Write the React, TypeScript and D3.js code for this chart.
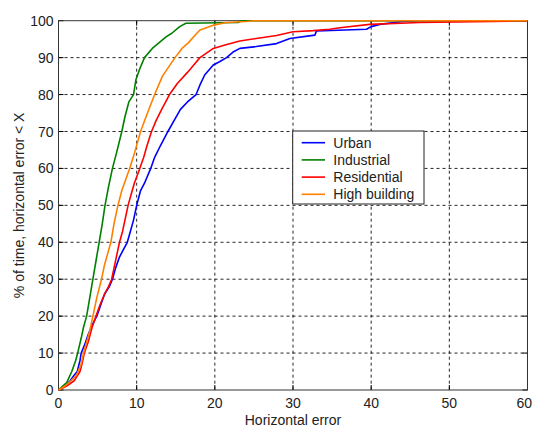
import React from "react";
import * as d3 from "d3";

const xTicks = [0, 10, 20, 30, 40, 50, 60];
const yTicks = [0, 10, 20, 30, 40, 50, 60, 70, 80, 90, 100];
const seriesNames = ["Urban", "Industrial", "Residential", "High building"];
const seriesColors = ["#0000ff", "#008000", "#ff0000", "#ff8000"];

const urbanX = [0, 0.8, 1.5, 2.0, 2.4, 2.75, 2.9, 3.3, 3.8, 4.4, 4.9, 5.4, 5.9, 6.5, 6.9, 7.3, 7.8, 8.3, 8.8, 9.2, 9.6, 10.0, 10.5, 11.0, 11.8, 12.3, 13.0, 14.0, 14.8, 15.6, 16.5, 17.6, 18.1, 18.7, 19.8, 20.6, 21.5, 22.4, 23.2, 25.3, 27.9, 29.6, 32.8, 33.0, 39.4, 40.0, 41.1, 44.0, 46.2, 60];
const urbanY = [0, 1, 2.5, 4, 5, 8, 10, 12, 15, 18, 20, 23, 26, 28, 30, 33, 36, 38, 40, 43, 46, 50, 54, 56, 60, 63, 66, 70, 73, 76, 78, 80, 82.6, 85.3, 88, 88.9, 90, 91.6, 92.5, 93, 93.8, 95.2, 96.1, 97.2, 97.7, 98.4, 99, 99.8, 100, 100];

const industrialX = [0, 0.5, 1.05, 1.7, 2.2, 2.45, 2.9, 3.2, 3.6, 4.0, 4.4, 4.8, 5.2, 5.6, 5.95, 6.4, 6.9, 7.4, 8.1, 8.5, 9.0, 9.6, 9.9, 10.4, 11.0, 12.0, 12.8, 13.8, 14.5, 15.5, 16.3, 23.0, 23.4, 60];
const industrialY = [0, 1, 2, 5, 8, 10, 14, 17, 20, 25, 30, 35, 40, 45, 50, 55, 60, 64, 70, 74, 78, 80, 84, 87, 90, 92.5, 93.9, 95.7, 96.6, 98.4, 99.3, 99.5, 100, 100];

const residentialX = [0, 1.0, 2.0, 2.75, 3.0, 3.3, 3.8, 4.3, 4.8, 5.3, 5.9, 6.4, 6.8, 7.1, 7.5, 7.8, 8.2, 8.5, 8.9, 9.3, 9.7, 10.4, 10.9, 11.3, 11.9, 12.5, 13.2, 14.2, 15.2, 16.5, 17.3, 18.1, 19.8, 21.3, 23.2, 25.3, 27.9, 30.0, 32.6, 34.7, 36.0, 39.8, 46.2, 58.0, 58.2, 60];
const residentialY = [0, 1, 2.5, 5, 7, 10, 13, 17, 20, 23, 26, 28, 30, 33, 37, 40, 43, 46, 50, 53, 56, 60, 63, 66, 70, 73, 76, 80, 83, 86, 88, 90, 92.5, 93.4, 94.5, 95.2, 96, 97, 97.3, 97.7, 98.1, 99, 99.5, 99.9, 100, 100];

const highX = [0, 0.8, 1.6, 2.3, 2.9, 3.2, 3.6, 4.0, 4.4, 4.9, 5.5, 5.9, 6.3, 6.7, 7.1, 7.6, 8.1, 8.6, 9.1, 9.7, 10.5, 11.2, 12.3, 13.3, 14.9, 15.8, 16.6, 17.7, 18.1, 19.8, 21.5, 24.0, 25.1, 60];
const highY = [0, 1, 2.5, 4, 7, 10, 13, 16, 20, 25, 30, 34, 37, 40, 45, 50, 54, 57, 60, 64, 70, 74, 80, 85, 90, 92.5, 94, 96.6, 97.5, 98.8, 99.5, 99.8, 100, 100];

const seriesData = [
  { xs: urbanX, ys: urbanY },
  { xs: industrialX, ys: industrialY },
  { xs: residentialX, ys: residentialY },
  { xs: highX, ys: highY },
];

const W = 533;
const H = 428;
const L = 58.5;
const R = 527.5;
const T = 20.7;
const B = 390;
const FONT = "'Liberation Sans', Arial, sans-serif";
const FS = 14;

export default function App() {
  const x = d3.scaleLinear().domain([0, 60]).range([L, R]);
  const y = d3.scaleLinear().domain([0, 100]).range([B, T]);
  const line = d3
    .line<[number, number]>()
    .x((d) => x(d[0]))
    .y((d) => y(d[1]));

  return (
    <svg width={W} height={H} style={{ position: "absolute", left: 0, top: 0, background: "#fff" }}>
      <rect x={0} y={0} width={W} height={H} fill="#fff" />
      {xTicks.slice(1, -1).map((t) => (
        <line key={"gx" + t} x1={x(t)} x2={x(t)} y1={T} y2={B} stroke="#000" strokeWidth={1} strokeDasharray="3,3" opacity={0.85} />
      ))}
      {yTicks.slice(1, -1).map((t) => (
        <line key={"gy" + t} x1={L} x2={R} y1={y(t)} y2={y(t)} stroke="#000" strokeWidth={1} strokeDasharray="3,3" opacity={0.85} />
      ))}
      {xTicks.map((t) => (
        <g key={"tx" + t}>
          <line x1={x(t)} x2={x(t)} y1={B} y2={B - 5} stroke="#000" />
          <line x1={x(t)} x2={x(t)} y1={T} y2={T + 5} stroke="#000" />
        </g>
      ))}
      {yTicks.map((t) => (
        <g key={"ty" + t}>
          <line x1={L} x2={L + 5} y1={y(t)} y2={y(t)} stroke="#000" />
          <line x1={R} x2={R - 5} y1={y(t)} y2={y(t)} stroke="#000" />
        </g>
      ))}
      <rect x={L} y={T} width={R - L} height={B - T} fill="none" stroke="#333" strokeWidth={1} />
      {seriesData.map((s, i) => (
        <path
          key={"s" + i}
          d={line(s.xs.map((v, k) => [v, s.ys[k]] as [number, number])) || ""}
          fill="none"
          stroke={seriesColors[i]}
          strokeWidth={1.6}
          strokeLinejoin="round"
        />
      ))}
      {xTicks.map((t, i) => (
        <text
          key={"lx" + t}
          x={i === xTicks.length - 1 ? W - 1 : x(t)}
          y={408}
          textAnchor={i === xTicks.length - 1 ? "end" : "middle"}
          fontFamily={FONT}
          fontSize={FS}
          fill="#222"
        >
          {t}
        </text>
      ))}
      {yTicks.map((t) => (
        <text key={"ly" + t} x={L - 5} y={y(t)} dy="0.36em" textAnchor="end" fontFamily={FONT} fontSize={FS} fill="#222">
          {t}
        </text>
      ))}
      <text x={(L + R) / 2} y={425} textAnchor="middle" fontFamily={FONT} fontSize={FS} fill="#222">
        Horizontal error
      </text>
      <text
        transform={`translate(${23.5},${(T + B) / 2}) rotate(-90)`}
        textAnchor="middle"
        fontFamily={FONT}
        fontSize={FS}
        fill="#222"
      >
        % of time, horizontal error &lt; X
      </text>
      <rect x={292.7} y={131} width={131.3} height={73} fill="#fff" stroke="#222" strokeWidth={1} />
      {seriesNames.map((n, i) => (
        <g key={"lg" + i}>
          <line x1={301.7} x2={325} y1={142.7 + i * 17.2} y2={142.7 + i * 17.2} stroke={seriesColors[i]} strokeWidth={1.6} />
          <text x={333.3} y={142.7 + i * 17.2} dy="0.36em" fontFamily={FONT} fontSize={FS} fill="#222">
            {n}
          </text>
        </g>
      ))}
    </svg>
  );
}
